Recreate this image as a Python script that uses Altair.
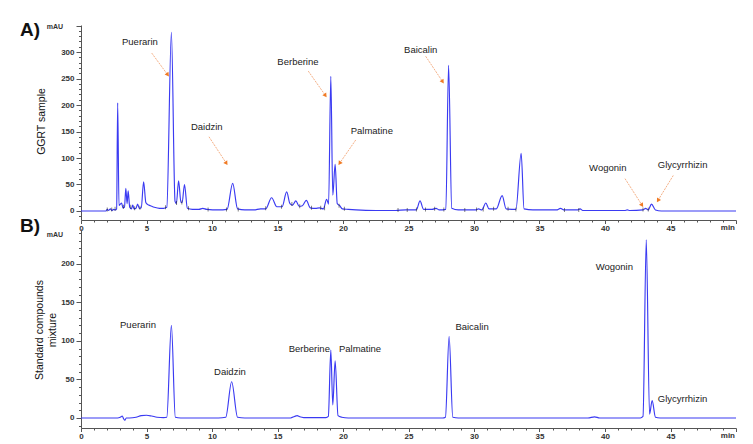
import math
import altair as alt
import pandas as pd

# ---------------- data ----------------
# Panel A: GGRT sample trace (retention time [min], absorbance [mAU])
a_time = [0, 1.9, 2.0, 2.1, 2.25, 2.35, 2.5, 2.62, 2.72, 2.8, 2.9, 3.0, 3.1, 3.2, 3.32, 3.42,
          3.52, 3.6, 3.72, 3.85, 3.95, 4.05, 4.2, 4.32, 4.45, 4.6, 4.78, 4.95, 5.1, 5.3, 5.6,
          6.0, 6.3, 6.55, 6.9, 7.18, 7.28, 7.45, 7.63, 7.72, 7.9, 8.12, 8.5, 9.0, 9.3, 9.6,
          10.5, 11.15, 11.58, 11.95, 12.5, 13.2, 13.7, 14.1, 14.55, 14.95, 15.35, 15.7, 15.95,
          16.15, 16.4, 16.65, 16.9, 17.2, 17.5, 17.9, 18.2, 18.5, 18.75, 18.9, 19.07, 19.22,
          19.4, 19.56, 19.75, 19.95, 20.4, 21.0, 22.5, 24.0, 24.8, 25.6, 25.88, 26.15, 26.8,
          27.1, 27.35, 27.85, 28.06, 28.3, 28.8, 30.1, 30.35, 30.6, 30.9, 31.15, 31.7, 32.15,
          32.45, 33.2, 33.6, 33.82, 34.5, 36.3, 36.6, 36.9, 37.9, 38.1, 38.3, 41.5, 41.7, 41.9,
          42.9, 43.1, 43.3, 43.55, 43.85, 44.3, 50]
a_mau = [0, 0, 3, 1, 4, 1, 3, 2, 4, 204, 10, 13, 15, 6, 7, 43,
         14, 38, 7, 4, 11, 4, 5, 13, 5, 6, 55, 16, 12, 10, 7,
         5, 5, 7, 337, 18, 14, 57, 16, 16, 50, 5, 3, 3, 5, 3,
         2, 3, 52, 4, 2, 2, 4, 4, 25, 8, 8, 36, 14,
         11, 19, 9, 10, 20, 6, 5, 6, 4, 22, 13, 254, 30,
         88, 14, 10, 4, 3, 2, 1, 1, 2, 2, 19, 3, 3,
         5, 2, 3, 275, 5, 2, 2, 4, 2, 15, 4, 4, 29,
         4, 3, 109, 4, 2, 2, 5, 2, 2, 4, 1, 1, 2, 1,
         2, 5, 2, 13, 2, 0, 0]

# Panel B: standard compounds mixture trace
b_time = [0, 2.8, 3.0, 3.15, 3.25, 3.35, 3.45, 3.7, 4.2, 4.6, 5.0, 5.4, 5.8, 6.3, 6.55, 6.9,
          7.2, 7.6, 10.5, 11.05, 11.5, 11.95, 12.5, 16.0, 16.3, 16.5, 16.7, 17.0, 18.7, 18.88,
          19.07, 19.22, 19.4, 19.62, 19.9, 20.4, 27.6, 27.82, 28.1, 28.38, 28.8, 38.7, 39.2,
          39.6, 42.7, 42.9, 43.15, 43.4, 43.6, 43.85, 44.2, 50]
b_mau = [0, 0, 1, 2.5, -1, -3, 0, 0, 1, 3, 3.5, 2.5, 1, 0.5, 1, 120,
         1, 0, 0, 1, 47, 1, 0, 0, 2, 3, 1.5, 0.5, 0.5, 2,
         88, 17, 74, 3, 1, 0, 0, 1, 106, 1, 0, 0, 1.5,
         0, 0, 2, 231, 5, 22.5, 1, 0, 0]

# integration markers on panel A baseline
mark_time = [2.0, 2.35, 2.6, 3.25, 3.8, 4.1, 4.5, 6.45, 7.3, 7.7, 8.2, 9.7, 11.1, 12.0,
             14.1, 15.3, 16.1, 16.7, 17.6, 18.3, 18.6, 19.7, 20.1, 24.2, 24.9, 25.6, 26.3,
             27.0, 27.7, 29.3, 30.2, 30.7, 31.5, 32.6, 33.2, 36.9, 38.0, 42.9, 43.3]
mark_mau = [3, 3, 4, 8, 8, 5, 6, 7, 15, 16, 5, 3, 3, 3,
            5, 8, 13, 9, 6, 6, 5, 10, 4, 2, 2, 3, 3,
            4, 3, 2, 3, 3, 4, 4, 3, 2, 2, 3, 3]

# compound names
compounds = ["Puerarin", "Daidzin", "Berberine", "Palmatine", "Baicalin", "Wogonin", "Glycyrrhizin"]

# Panel A annotation: label position and arrow (from -> to), in (min, mAU)
a_label_t = [4.50, 9.60, 16.56, 22.2, 25.93, 40.21, 45.93]
a_label_v = [319, 159, 281, 151, 304, 81, 86]
a_from_t = [5.40, 9.77, 17.35, 20.97, 26.31, 41.53, 45.21]
a_from_v = [298, 140, 264, 134, 292, 61, 67]
a_to_t = [6.59, 11.07, 18.63, 19.77, 27.58, 42.80, 44.07]
a_to_v = [258, 91, 219, 91, 245, 12, 21]

# Panel B labels
b_label_t = [4.35, 11.37, 17.43, 21.30, 29.85, 40.71, 45.92]
b_label_v = [120, 60, 90, 90, 118, 196, 24]

# axis values
x_ticks = list(range(0, 51))
a_y_ticks = list(range(-10, 351, 10))
b_y_ticks = list(range(-10, 241, 10))
a_y_label_max = 300
b_y_label_max = 200

# ---------------- layout ----------------
W = 655
A_H = 195
B_H = 199
A_DOM = [-17, 351]
B_DOM = [-13, 245]
FONT = "Liberation Sans"
LINE = "#3a3af2"
ARROW_LINE = "#f5b086"
ARROW_HEAD = "#f07a24"
ONE = pd.DataFrame({"k": [0]})


def xaxis():
    return alt.Axis(
        values=x_ticks,
        labelExpr="datum.value % 5 === 0 && datum.value < 50 ? datum.label : ''",
        tickSize={"condition": {"test": "datum.value % 5 === 0", "value": 3.5}, "value": 2},
        labelPadding=1, title=None, grid=False, labelOverlap=False, labelFlush=False,
    )


def yaxis(vals, lmax):
    return alt.Axis(
        values=vals,
        labelExpr=f"datum.value % 50 === 0 && datum.value <= {lmax} ? datum.label : ''",
        tickSize={"condition": {"test": "datum.value % 50 === 0", "value": 5}, "value": 2.5},
        labelPadding=2, title=None, grid=False, labelOverlap=False, labelFlush=False,
    )


def panel(times, vals, ydom, yvals, lmax, h, letter, ytitle, ytitle_x, ytitle_y, mau_y, letter_y,
          label_df, arrows_df=None, markers_df=None):
    trace = pd.DataFrame({"t": times, "v": vals})
    xs = alt.Scale(domain=[0, 50], nice=False, zero=False)
    ys = alt.Scale(domain=ydom, nice=False, zero=False)

    def X(f):
        return alt.X(f, type="quantitative", scale=xs, axis=xaxis())

    def Y(f):
        return alt.Y(f, type="quantitative", scale=ys, axis=yaxis(yvals, lmax))

    line = alt.Chart(trace).mark_line(color=LINE, strokeWidth=1.15, interpolate="monotone").encode(
        x=X("t"), y=Y("v"))
    layers = [line]
    if markers_df is not None:
        layers.append(alt.Chart(markers_df).mark_tick(color="#222", orient="vertical", size=4,
                                                      thickness=0.8).encode(x=X("t"), y=Y("v")))
    if arrows_df is not None:
        layers.append(alt.Chart(arrows_df).mark_rule(color=ARROW_LINE, strokeWidth=1,
                                                     strokeDash=[2, 1]).encode(
            x=X("t1"), y=Y("v1"), x2="t2:Q", y2="v2:Q"))
        layers.append(alt.Chart(arrows_df).mark_point(shape="triangle", filled=True,
                                                      color=ARROW_HEAD, opacity=1, size=22).encode(
            x=X("t2"), y=Y("v2"), angle=alt.Angle("ang:Q", scale=None)))
    layers.append(alt.Chart(label_df).mark_text(font=FONT, fontSize=9.5, color="#222").encode(
        x=X("t"), y=Y("v"), text="name:N"))
    # panel decorations (single row each)
    layers.append(alt.Chart(ONE).mark_text(font=FONT, fontSize=19, fontWeight="bold", align="left",
                                           baseline="middle", color="#111").encode(
        x=alt.value(-61), y=alt.value(letter_y), text=alt.value(letter)))
    layers.append(alt.Chart(ONE).mark_text(font=FONT, fontSize=7, fontWeight="bold",
                                           baseline="middle", color="#333").encode(
        x=alt.value(-26), y=alt.value(mau_y), text=alt.value("mAU")))
    layers.append(alt.Chart(ONE).mark_text(font=FONT, fontSize=10.5, angle=270, baseline="middle",
                                           align="center", lineBreak="\n", color="#111").encode(
        x=alt.value(ytitle_x), y=alt.value(ytitle_y), text=alt.value(ytitle)))
    layers.append(alt.Chart(ONE).mark_text(font=FONT, fontSize=8, fontWeight="bold", align="right",
                                           baseline="top", color="#333").encode(
        x=alt.value(W - 1), y=alt.value(h + 4), text=alt.value("min")))
    return alt.layer(*layers).properties(width=W, height=h)


kxa = W / 50
kya = A_H / (A_DOM[1] - A_DOM[0])
angles = []
for t1, v1, t2, v2 in zip(a_from_t, a_from_v, a_to_t, a_to_v):
    dx = (t2 - t1) * kxa
    dy = -(v2 - v1) * kya
    angles.append(math.degrees(math.atan2(dx, -dy)) % 360)

a_labels = pd.DataFrame({"name": compounds, "t": a_label_t, "v": a_label_v})
a_arrows = pd.DataFrame({"t1": a_from_t, "v1": a_from_v, "t2": a_to_t, "v2": a_to_v, "ang": angles})
a_marks = pd.DataFrame({"t": mark_time, "v": mark_mau})
b_labels = pd.DataFrame({"name": compounds, "t": b_label_t, "v": b_label_v})

top = panel(a_time, a_mau, A_DOM, a_y_ticks, a_y_label_max, A_H, "A)", "GGRT sample", -39, 96.5, 2, 4.5,
            a_labels, a_arrows, a_marks)
bottom = panel(b_time, b_mau, B_DOM, b_y_ticks, b_y_label_max, B_H, "B)", "Standard compounds\nmixture",
               -41, 101, 6, -3, b_labels)

chart = alt.vconcat(top, bottom, spacing=9, bounds="flush").properties(
    padding={"left": 12, "top": 12, "right": 0, "bottom": 0}
).configure_view(strokeWidth=0).configure_axis(
    domainColor="#555", tickColor="#555", labelFont=FONT, labelFontSize=8,
    labelFontWeight="bold", labelColor="#333", domainWidth=1, tickWidth=1,
)

chart.save("out.html", embed_options={"renderer": "svg", "actions": False})
